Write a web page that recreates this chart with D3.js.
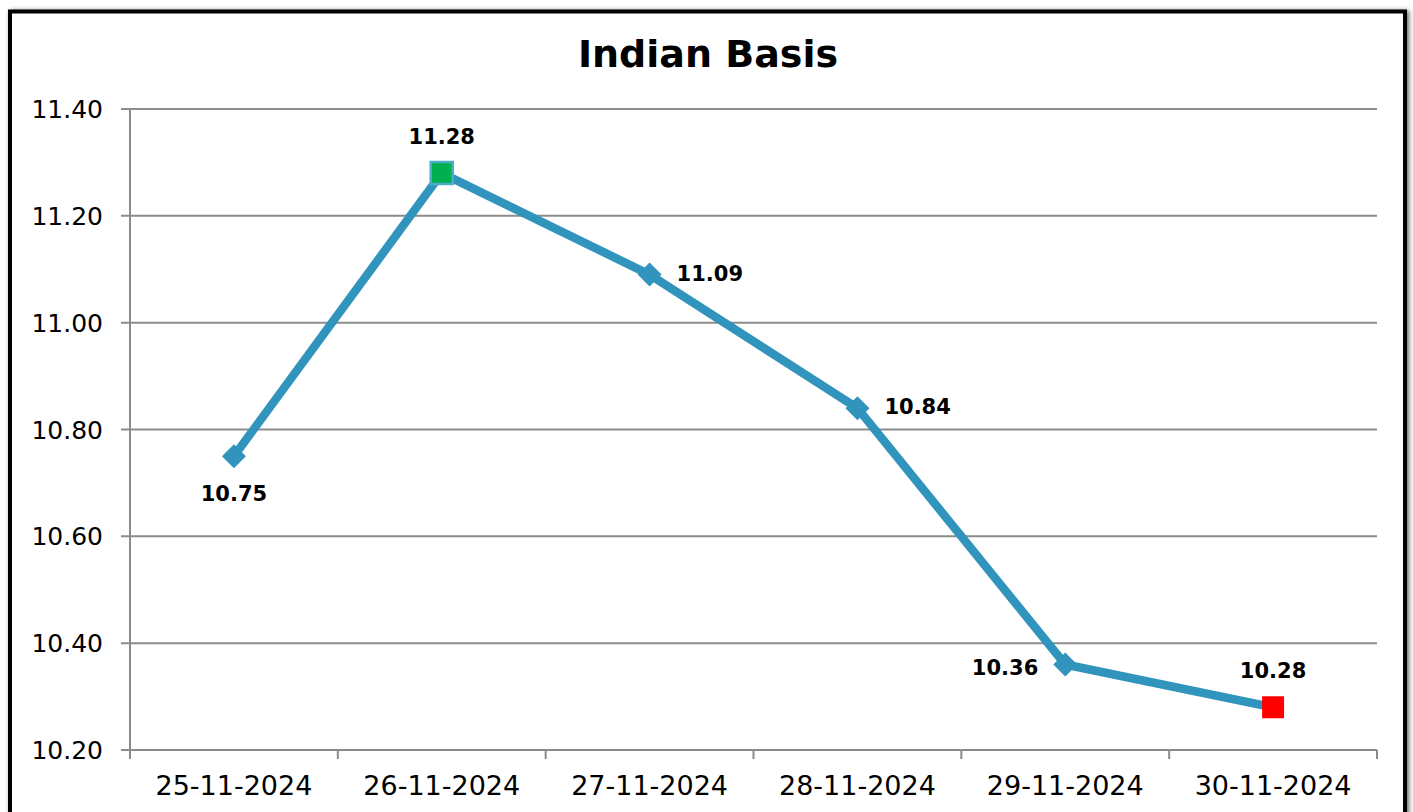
<!DOCTYPE html>
<html>
<head>
<meta charset="utf-8">
<script src="https://cdn.jsdelivr.net/npm/d3@7"></script>
<style>
  body { margin: 0; background: #fff; }
  svg { display: block; font-family: "DejaVu Sans", Verdana, sans-serif; }
</style>
</head>
<body>
<svg width="1413" height="812"></svg>
<script>
const dates = ["25-11-2024", "26-11-2024", "27-11-2024", "28-11-2024", "29-11-2024", "30-11-2024"];
const values = [10.75, 11.28, 11.09, 10.84, 10.36, 10.28];
const yTicks = [10.20, 10.40, 10.60, 10.80, 11.00, 11.20, 11.40];
// where each value label sits relative to its point
const labelPos = ["below", "above", "right", "right", "left", "above"];

const data = dates.map((d, i) => ({ date: d, value: values[i], pos: labelPos[i] }));

let svg = d3.select("svg");

// frame with soft shadow
const defs = svg.append("defs");
const f = defs.append("filter").attr("id", "shadow").attr("x", "-5%").attr("y", "-5%").attr("width", "110%").attr("height", "110%");
f.append("feGaussianBlur").attr("in", "SourceAlpha").attr("stdDeviation", 2.5);
f.append("feOffset").attr("dx", 2).attr("dy", 1).attr("result", "b");
f.append("feComponentTransfer").append("feFuncA").attr("type", "linear").attr("slope", 0.6);
const m = f.append("feMerge");
m.append("feMergeNode");
m.append("feMergeNode").attr("in", "SourceGraphic");

svg.append("rect")
  .attr("x", 10).attr("y", 11.5)
  .attr("width", 1395).attr("height", 830)
  .attr("fill", "#fff").attr("stroke", "#000").attr("stroke-width", 4)
  .attr("filter", "url(#shadow)");

let padding = { top: 109, right: 36, bottom: 62, left: 130 };
const chartArea = {
  width: 1413 - padding.left - padding.right,
  height: 812 - padding.top - padding.bottom
};

const xScale = d3.scaleBand()
  .domain(dates)
  .range([0, chartArea.width]);

const yScale = d3.scaleLinear()
  .domain([10.2, 11.4])
  .range([chartArea.height, 0]);

let g = svg.append("g")
  .attr("transform", "translate(" + padding.left + "," + padding.top + ")");

// horizontal gridlines
g.append("g")
  .selectAll("line").data(yTicks).enter().append("line")
  .attr("x1", -9).attr("x2", chartArea.width)
  .attr("y1", d => yScale(d)).attr("y2", d => yScale(d))
  .attr("stroke", "#8c8c8c").attr("stroke-width", 2);

// y axis line
g.append("line")
  .attr("x1", 0).attr("x2", 0).attr("y1", 0).attr("y2", chartArea.height)
  .attr("stroke", "#8c8c8c").attr("stroke-width", 2);

// y labels
g.append("g")
  .selectAll("text").data(yTicks).enter().append("text")
  .attr("x", -27).attr("y", d => yScale(d))
  .attr("dy", "0.36em")
  .attr("text-anchor", "end")
  .attr("font-size", 25)
  .attr("fill", "#000")
  .text(d => d.toFixed(2));

// x axis
const xAxis = g.append("g")
  .attr("transform", "translate(0," + chartArea.height + ")")
  .call(d3.axisBottom(xScale).tickSize(0).tickPadding(26));
xAxis.select(".domain").remove();
xAxis.selectAll("text").attr("font-size", 27).attr("font-family", "DejaVu Sans, Verdana, sans-serif").attr("fill", "#000");

// x ticks at category boundaries
const bounds = dates.map(d => xScale(d)).concat([chartArea.width]);
g.append("g")
  .selectAll("line").data(bounds).enter().append("line")
  .attr("x1", d => d).attr("x2", d => d)
  .attr("y1", chartArea.height).attr("y2", chartArea.height + 9)
  .attr("stroke", "#8c8c8c").attr("stroke-width", 2);

const cx = d => xScale(d.date) + xScale.bandwidth() / 2;

// series line
g.append("path")
  .datum(data)
  .attr("fill", "none")
  .attr("stroke", "#3194bd")
  .attr("stroke-width", 8.5)
  .attr("stroke-linejoin", "round")
  .attr("d", d3.line().x(cx).y(d => yScale(d.value)));

// markers
const maxV = d3.max(values), minV = d3.min(values);
g.append("g")
  .selectAll("path").data(data).enter().append("path")
  .attr("transform", d => "translate(" + cx(d) + "," + yScale(d.value) + ")")
  .attr("d", d => {
    if (d.value === maxV || d.value === minV) return "M-11,-11H11V11H-11Z";
    return "M0,-12L12,0L0,12L-12,0Z";
  })
  .attr("fill", d => d.value === maxV ? "#00b050" : d.value === minV ? "#ff0000" : "#3194bd")
  .attr("stroke", d => d.value === maxV ? "#4bacc6" : "none")
  .attr("stroke-width", 2.5);

// value labels
const off = {
  above: [0, -29, "middle"],
  below: [0, 45, "middle"],
  right: [27, 6, "start"],
  left: [-27, 10, "end"]
};
g.append("g")
  .selectAll("text").data(data).enter().append("text")
  .attr("x", d => cx(d) + off[d.pos][0])
  .attr("y", d => yScale(d.value) + off[d.pos][1])
  .attr("text-anchor", d => off[d.pos][2])
  .attr("font-size", 21)
  .attr("font-weight", "bold")
  .attr("fill", "#000")
  .text(d => d.value.toFixed(2));

// title
svg.append("text")
  .attr("x", 708).attr("y", 67)
  .attr("text-anchor", "middle")
  .attr("font-size", 38)
  .attr("font-weight", "bold")
  .attr("fill", "#000")
  .text("Indian Basis");
</script>
</body>
</html>
